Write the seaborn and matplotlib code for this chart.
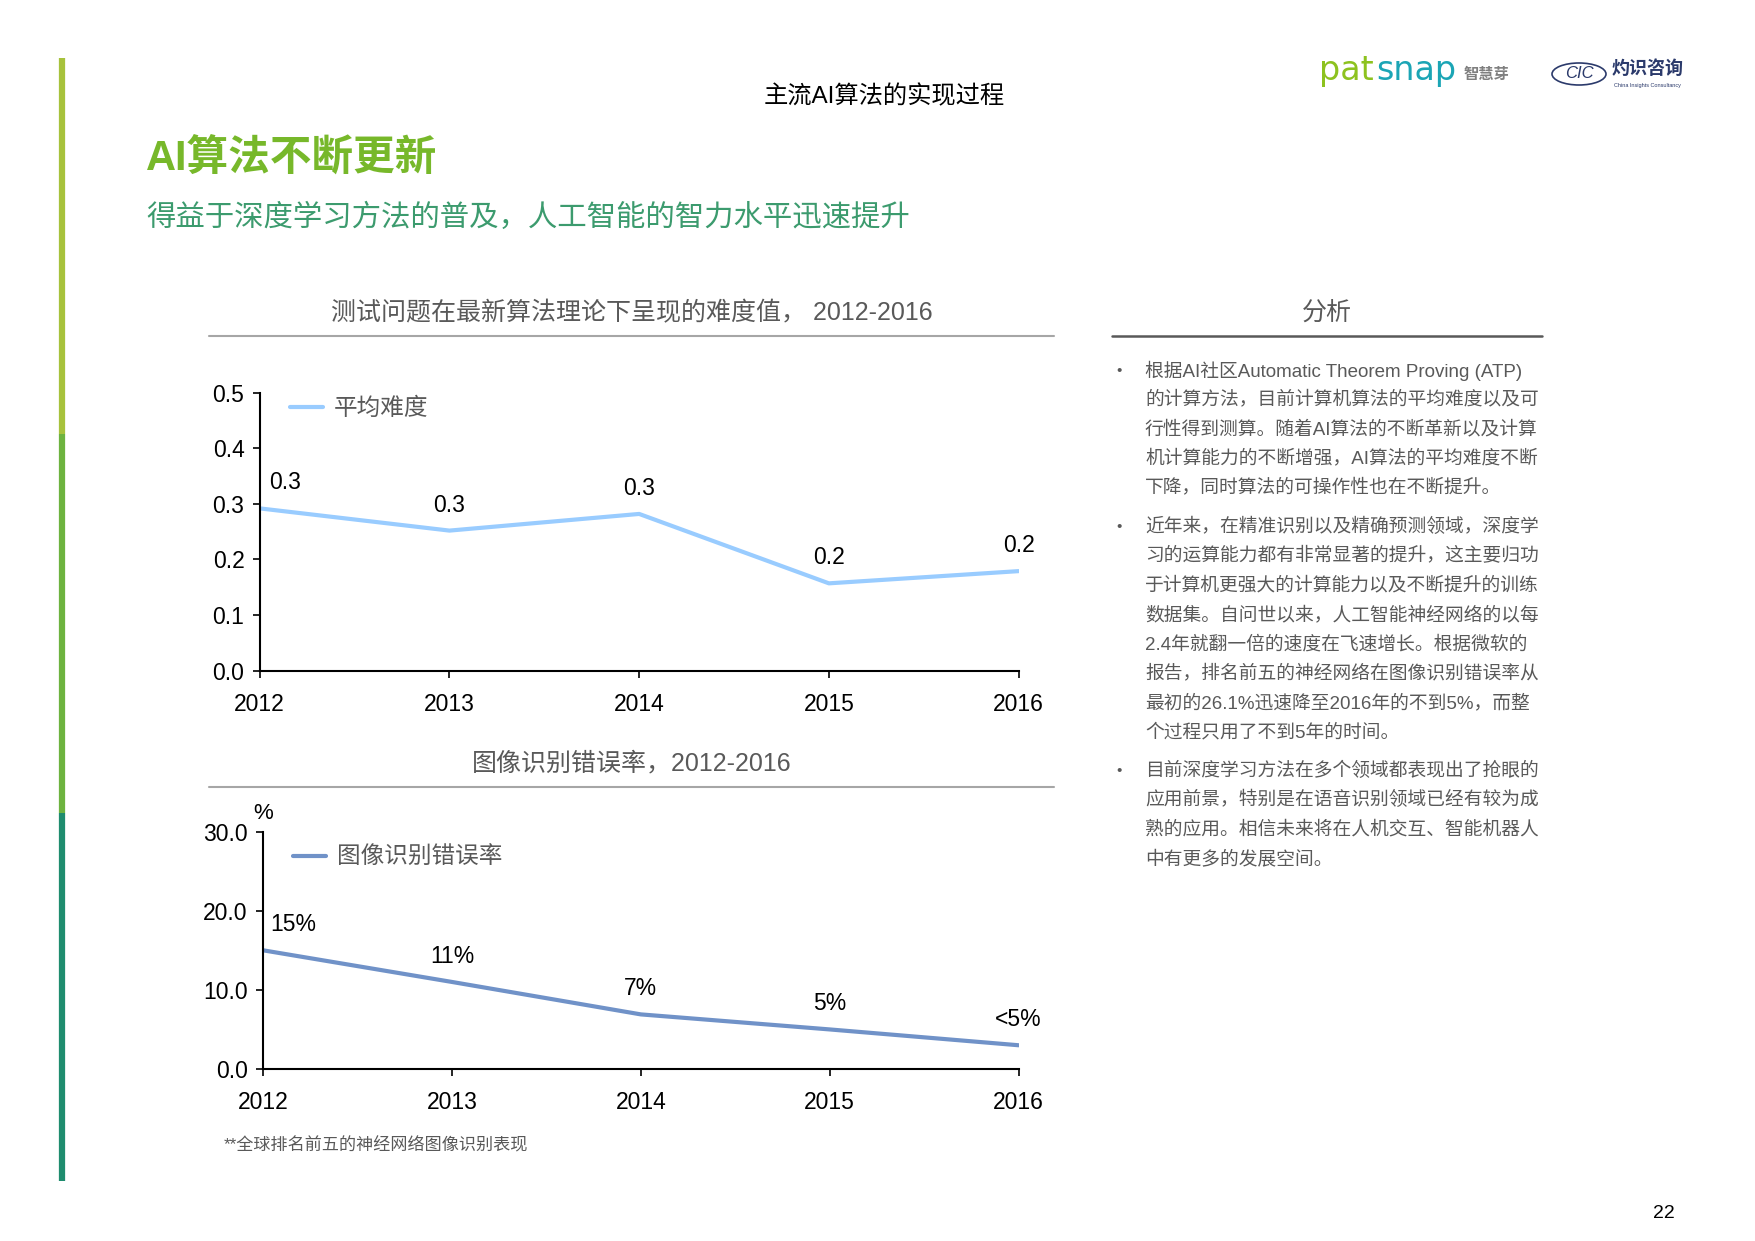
import matplotlib
matplotlib.use("Agg")
import matplotlib.pyplot as plt
import seaborn as sns
import pandas as pd
from matplotlib.lines import Line2D
from matplotlib.patches import Ellipse

sns.set_theme(style="white")
plt.rcParams["font.family"] = ["Liberation Sans", "Noto Sans CJK SC", "DejaVu Sans"]

# --- data ---
years = [2012, 2013, 2014, 2015, 2016]
difficulty = [0.292, 0.252, 0.282, 0.157, 0.179]
difficulty_labels = ["0.3", "0.3", "0.3", "0.2", "0.2"]
error_rate = [15.0, 11.0, 6.9, 5.0, 3.0]
error_labels = ["15%", "11%", "7%", "5%", "<5%"]

analysis = [
    ["根据AI社区Automatic Theorem Proving (ATP)",
     "的计算方法，目前计算机算法的平均难度以及可",
     "行性得到测算。随着AI算法的不断革新以及计算",
     "机计算能力的不断增强，AI算法的平均难度不断",
     "下降，同时算法的可操作性也在不断提升。"],
    ["近年来，在精准识别以及精确预测领域，深度学",
     "习的运算能力都有非常显著的提升，这主要归功",
     "于计算机更强大的计算能力以及不断提升的训练",
     "数据集。自问世以来，人工智能神经网络的以每",
     "2.4年就翻一倍的速度在飞速增长。根据微软的",
     "报告，排名前五的神经网络在图像识别错误率从",
     "最初的26.1%迅速降至2016年的不到5%，而整",
     "个过程只用了不到5年的时间。"],
    ["目前深度学习方法在多个领域都表现出了抢眼的",
     "应用前景，特别是在语音识别领域已经有较为成",
     "熟的应用。相信未来将在人机交互、智能机器人",
     "中有更多的发展空间。"],
]

W, H = 1755, 1241
fig = plt.figure(figsize=(W / 100, H / 100), dpi=100)
fig.patch.set_facecolor("white")


def fx(x):
    return x / W


def fy(y):
    return 1 - y / H


GRAY = "#595959"

# --- left coloured bar ---
for y0, y1, c in [(58, 434, "#A7C23C"), (434, 813, "#6DB33F"), (813, 1181, "#1E8C6E")]:
    fig.add_artist(Line2D([fx(61.5), fx(61.5)], [fy(y0), fy(y1)], color=c, lw=4.5, solid_capstyle="butt"))

# --- header ---
fig.text(fx(884), fy(97), "主流AI算法的实现过程", ha="center", va="center", fontsize=17.5, color="black")
fig.text(fx(146), fy(158), "AI算法不断更新", ha="left", va="center", fontsize=30, fontweight="bold", color="#77B82A")
fig.text(fx(146), fy(218), "得益于深度学习方法的普及，人工智能的智力水平迅速提升", ha="left", va="center",
         fontsize=21.2, color="#3C9B6E")

# logos
fig.text(fx(1374), fy(80), "pat", ha="right", va="baseline", fontsize=24, color="#8DC21F", family="DejaVu Sans")
fig.text(fx(1376), fy(80), "snap", ha="left", va="baseline", fontsize=24, color="#1BA5B5", family="DejaVu Sans")
fig.text(fx(1464), fy(75), "智慧芽", ha="left", va="center", fontsize=11, fontweight="bold", color="#7F7F7F")
fig.add_artist(Ellipse((fx(1579), fy(74)), fx(54), 22 / H, fill=False, ec="#2B3A6B", lw=1.2))
fig.text(fx(1579), fy(74), "CIC", ha="center", va="center", fontsize=12, style="italic", color="#2B3A6B")
fig.text(fx(1612), fy(69), "灼识咨询", ha="left", va="center", fontsize=13, fontweight="bold", color="#2B3A6B")
fig.text(fx(1614), fy(85), "China Insights Consultancy", ha="left", va="center", fontsize=4, color="#2B3A6B")

# --- section titles and rules ---
fig.text(fx(632), fy(313), "测试问题在最新算法理论下呈现的难度值， 2012-2016", ha="center", va="center",
         fontsize=18, color=GRAY)
fig.add_artist(Line2D([fx(209), fx(1054)], [fy(336), fy(336)], color="#A6A6A6", lw=1.5))
fig.text(fx(632), fy(763), "图像识别错误率，2012-2016", ha="center", va="center", fontsize=18, color=GRAY)
fig.add_artist(Line2D([fx(209), fx(1054)], [fy(787), fy(787)], color="#A6A6A6", lw=1.5))
fig.text(fx(1327), fy(313), "分析", ha="center", va="center", fontsize=18, color=GRAY)
fig.add_artist(Line2D([fx(1112), fx(1542)], [fy(336), fy(336)], color="#595959", lw=1.8))

# --- chart 1: average difficulty ---
df1 = pd.DataFrame({"year": years, "val": difficulty})
ax1 = fig.add_axes([0.148, 0.4597, 0.4324, 0.2237])
sns.lineplot(data=df1, x="year", y="val", ax=ax1, color="#99CCFF", linewidth=3, label="平均难度")
ax1.set_xlim(2012, 2016)
ax1.set_ylim(0, 0.5)
ax1.set_yticks([0, 0.1, 0.2, 0.3, 0.4, 0.5])
ax1.set_yticklabels([f"{v:.1f}" for v in [0, 0.1, 0.2, 0.3, 0.4, 0.5]])
for i, (x, y, t) in enumerate(zip(years, difficulty, difficulty_labels)):
    dx = 25 if i == 0 else 0
    ax1.annotate(t, (x, y), xytext=(dx, 14), textcoords="offset pixels", ha="center", va="bottom",
                 fontsize=16.5, color="black")

# --- chart 2: image recognition error rate ---
df2 = pd.DataFrame({"year": years, "val": error_rate})
ax2 = fig.add_axes([0.1499, 0.1386, 0.4305, 0.1913])
sns.lineplot(data=df2, x="year", y="val", ax=ax2, color="#7092C8", linewidth=3, label="图像识别错误率")
ax2.set_xlim(2012, 2016)
ax2.set_ylim(0, 30)
ax2.set_yticks([0, 10, 20, 30])
ax2.set_yticklabels([f"{v:.1f}" for v in [0, 10, 20, 30]])
for i, (x, y, t) in enumerate(zip(years, error_rate, error_labels)):
    dx = 30 if i == 0 else 0
    ax2.annotate(t, (x, y), xytext=(dx, 14), textcoords="offset pixels", ha="center", va="bottom",
                 fontsize=16.5, color="black")
ax2.text(0, 1.03, "%", transform=ax2.transAxes, ha="center", va="bottom", fontsize=16, color="black")

legend_anchor = {ax1: (0.012, 1.059), ax2: (0.012, 1.025)}
for ax in (ax1, ax2):
    ax.set_facecolor("white")
    ax.set_xticks(years)
    ax.set_xticklabels([str(y) for y in years])
    ax.set_xlabel("")
    ax.set_ylabel("")
    for s in ["top", "right"]:
        ax.spines[s].set_visible(False)
    for s in ["left", "bottom"]:
        ax.spines[s].set_color("black")
        ax.spines[s].set_linewidth(1.5)
    ax.tick_params(axis="both", which="major", direction="out", length=5, width=1.2, color="black",
                   labelsize=16.5, labelcolor="black", left=True, bottom=True)
    ax.tick_params(axis="x", pad=11)
    ax.tick_params(axis="y", pad=6)
    ax.grid(False)
    leg = ax.legend(loc="upper left", bbox_to_anchor=legend_anchor[ax], frameon=False, fontsize=17,
                    handlelength=1.4, handletextpad=0.45)
    for txt in leg.get_texts():
        txt.set_color(GRAY)

# --- analysis text ---
line_h = 29.3
starts = [370.5, 527.2, 771.0]
for block, y0 in zip(analysis, starts):
    fig.text(fx(1119), fy(y0), "•", ha="center", va="center", fontsize=11, color=GRAY)
    for j, line in enumerate(block):
        fig.text(fx(1145), fy(y0 + j * line_h), line, ha="left", va="center", fontsize=13.5, color=GRAY)

# --- footnote and page number ---
fig.text(fx(224), fy(1145), "**全球排名前五的神经网络图像识别表现", ha="left", va="center", fontsize=12.3, color=GRAY)
fig.text(fx(1664), fy(1213), "22", ha="center", va="center", fontsize=14, color="black")

fig.savefig("out.png", dpi=100, facecolor="white")
